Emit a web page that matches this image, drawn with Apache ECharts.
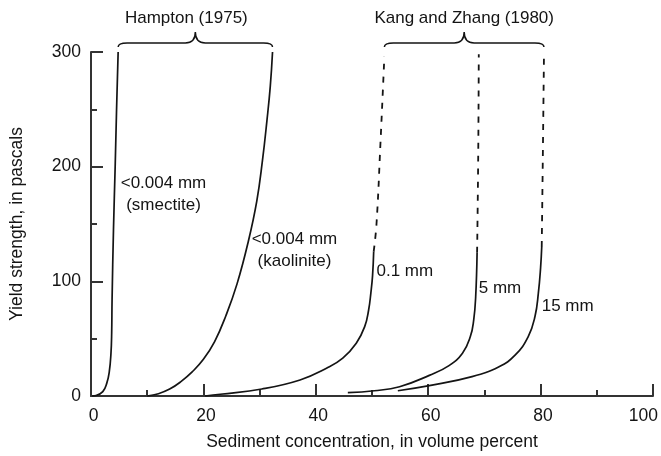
<!DOCTYPE html>
<html>
<head>
<meta charset="utf-8">
<script src="https://cdn.jsdelivr.net/npm/echarts@6/dist/echarts.min.js"></script>
<style>
  html, body { margin: 0; padding: 0; background: #fff; }
  #chart { width: 661px; height: 456px; }
</style>
</head>
<body>
<div id="chart"></div>
<script>
// Yield strength (Pa) versus sediment concentration (volume percent)
const xTickLabels = ['0', '20', '40', '60', '80', '100'];
const yTickLabels = ['0', '100', '200', '300'];

// Hampton (1975)
const smectite = [[0.2, 0], [0.9, 0.4], [2.1, 3.8], [2.8, 11], [3.25, 21], [3.55, 37], [3.68, 55], [3.75, 84], [4.0, 145], [4.3, 200], [4.55, 250], [4.83, 300]];
const kaolinite = [[10, 0], [12, 2], [14, 6], [16, 12.5], [18, 21], [20, 32], [22, 47.5], [24, 70], [26, 98], [28, 135], [29.5, 170], [30.5, 205], [31.3, 240], [31.9, 270], [32.3, 300]];

// Kang and Zhang (1980): measured part (solid) and extrapolation (dashed)
const mm01 = [[20.3, 0], [23, 1.5], [30.4, 6.1], [37.2, 14], [41.9, 24.2], [44.8, 33], [47.2, 46], [48.7, 60.5], [49.4, 75], [49.8, 90], [50.1, 105], [50.3, 126]];
const mm01Ext = [[50.3, 126], [50.8, 150], [51.5, 220], [52.2, 296]];
const mm5 = [[45.7, 2.9], [50.4, 4.6], [54.9, 8.1], [60.2, 18], [63.7, 26.5], [66.1, 37.3], [67.5, 51.8], [68.1, 66.4], [68.45, 86.7], [68.7, 125]];
const mm5Ext = [[68.7, 125], [68.9, 210], [69.0, 298]];
const mm15 = [[54.6, 4.6], [60.2, 9], [67.8, 16.9], [72.6, 25.6], [75.5, 35.8], [77.8, 51.8], [79.0, 69.3], [79.6, 89.7], [80.0, 112], [80.2, 130]];
const mm15Ext = [[80.2, 130], [80.4, 210], [80.6, 298]];

const groupNames = ['Hampton (1975)', 'Kang and Zhang (1980)'];
const groupCurves = [[smectite, kaolinite], [mm01Ext, mm15Ext]];

const curveLabelTexts = ['<0.004 mm\n(smectite)', '<0.004 mm\n(kaolinite)', '0.1 mm', '5 mm', '15 mm'];

// ---- layout ----
const FONT = '"Liberation Sans", Arial, Helvetica, sans-serif';
const INK = '#141414';
const AXIS = '#333333';

// where each curve label sits (data units) and how it is aligned
const curveLabelPlacement = [
  { at: [12.9, 176], align: 'center' },
  { at: [36.2, 127], align: 'center' },
  { at: [50.8, 108.6], align: 'left' },
  { at: [69.0, 94], align: 'left' },
  { at: [80.2, 78.6], align: 'left' }
];
const titleShift = [-9, 0];

// brace spans derived from the top ends of each group's curves
const braceData = groupCurves.map(curves => {
  const tops = curves.map(c => c[c.length - 1][0]);
  return [Math.min(...tops), Math.max(...tops)];
});

function braceItem(params, api) {
  const L = api.coord([api.value(0), 300]);
  const R = api.coord([api.value(1), 300]);
  const base = L[1] - 5;
  const bar = base - 4;
  const peak = base - 15;
  const l = L[0], r = R[0], m = (l + r) / 2;
  const d = `M${l},${base} Q${l},${bar} ${l + 9},${bar} L${m - 10},${bar} Q${m},${bar} ${m},${peak} ` +
            `Q${m},${bar} ${m + 10},${bar} L${r - 9},${bar} Q${r},${bar} ${r},${base}`;
  return {
    type: 'group',
    children: [
      { type: 'path', shape: { pathData: d }, style: { fill: 'none', stroke: INK, lineWidth: 1.5 } },
      {
        type: 'text',
        style: {
          text: groupNames[params.dataIndex],
          x: m + titleShift[params.dataIndex], y: peak - 14,
          textAlign: 'center', textVerticalAlign: 'middle',
          font: '17px ' + FONT, fill: INK
        }
      }
    ]
  };
}

function lineSeries(data, dashed) {
  return {
    type: 'line', data: data, smooth: 0.45, symbol: 'none', clip: false,
    lineStyle: { color: INK, width: dashed ? 1.8 : 1.7, type: dashed ? [6, 7] : 'solid' },
    silent: true, z: 3
  };
}

const chart = echarts.init(document.getElementById('chart'), null, { renderer: 'canvas' });
chart.setOption({
  animation: false,
  backgroundColor: '#ffffff',
  textStyle: { fontFamily: FONT },
  grid: { left: 90, right: 6, top: 52, bottom: 60, containLabel: false },
  xAxis: {
    type: 'value', min: 0, max: 100, interval: 20,
    name: 'Sediment concentration, in volume percent',
    nameLocation: 'middle', nameGap: 37,
    nameTextStyle: { fontSize: 17.5, color: INK, fontFamily: FONT },
    axisLine: { show: true, lineStyle: { color: AXIS, width: 2 } },
    axisTick: { show: true, inside: true, length: 12, lineStyle: { color: AXIS, width: 2 } },
    minorTick: { show: true, splitNumber: 2, length: 6, lineStyle: { color: AXIS, width: 2 } },
    axisLabel: {
      fontSize: 17.5, color: INK, margin: 11, fontFamily: FONT,
      alignMaxLabel: 'right', padding: [0, -5, 0, 0],
      formatter: v => xTickLabels[Math.round(v / 20)]
    },
    splitLine: { show: false }
  },
  yAxis: {
    type: 'value', min: 0, max: 300, interval: 100,
    name: 'Yield strength, in pascals',
    nameLocation: 'middle', nameGap: 65,
    nameTextStyle: { fontSize: 17.5, color: INK, fontFamily: FONT },
    axisLine: { show: true, lineStyle: { color: AXIS, width: 2 } },
    axisTick: { show: true, inside: true, length: 12, lineStyle: { color: AXIS, width: 2 } },
    minorTick: { show: true, splitNumber: 2, length: 6, lineStyle: { color: AXIS, width: 2 } },
    axisLabel: {
      fontSize: 17.5, color: INK, margin: 10, fontFamily: FONT,
      formatter: v => yTickLabels[Math.round(v / 100)]
    },
    splitLine: { show: false }
  },
  series: [
    lineSeries(smectite, false),
    lineSeries(kaolinite, false),
    lineSeries(mm01, false),
    lineSeries(mm01Ext, true),
    lineSeries(mm5, false),
    lineSeries(mm5Ext, true),
    lineSeries(mm15, false),
    lineSeries(mm15Ext, true),
    {
      type: 'custom', renderItem: braceItem, data: braceData, clip: false, silent: true
    },
    {
      type: 'scatter', symbolSize: 0, clip: false, silent: true,
      itemStyle: { opacity: 1 },
      data: curveLabelTexts.map((t, i) => ({
        value: curveLabelPlacement[i].at,
        label: {
          show: true, position: 'inside', formatter: t,
          align: curveLabelPlacement[i].align, verticalAlign: 'middle',
          fontSize: 17, lineHeight: 22, color: INK, fontFamily: FONT
        }
      }))
    }
  ]
});
</script>
</body>
</html>
